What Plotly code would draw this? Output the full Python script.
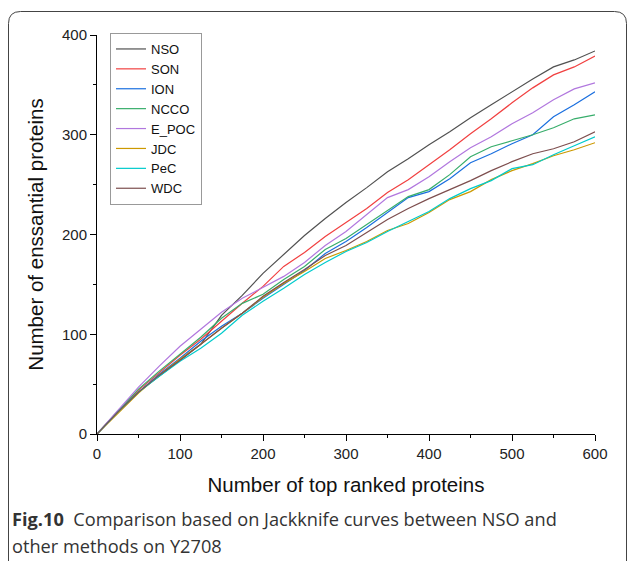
import plotly.graph_objects as go

x_vals = list(range(0, 601, 25))

nso = [0, 22, 42, 58, 74, 90, 119, 139, 161, 180, 199, 216, 232, 247, 263, 276, 290, 303, 317, 330, 343, 356, 368, 375, 384]
son = [0, 23, 44, 62, 79, 95, 113, 131, 148, 168, 182, 198, 212, 226, 242, 255, 270, 285, 301, 316, 332, 347, 360, 368, 379]
ion = [0, 22, 42, 60, 76, 93, 108, 121, 136, 150, 164, 181, 193, 207, 222, 237, 243, 256, 272, 281, 291, 300, 318, 330, 343]
ncco = [0, 23, 45, 63, 80, 97, 116, 131, 140, 155, 168, 185, 196, 210, 224, 238, 245, 260, 278, 288, 294, 300, 307, 316, 320]
e_poc = [0, 24, 47, 68, 88, 105, 122, 136, 147, 158, 172, 189, 203, 220, 237, 245, 258, 273, 287, 298, 311, 322, 335, 346, 352]
jdc = [0, 21, 41, 59, 75, 90, 106, 121, 137, 151, 163, 176, 184, 193, 204, 211, 222, 235, 243, 255, 264, 271, 279, 285, 292]
pec = [0, 22, 42, 58, 73, 86, 101, 119, 133, 146, 160, 172, 183, 192, 203, 213, 223, 236, 246, 254, 266, 270, 280, 289, 298]
wdc = [0, 22, 42, 59, 74, 90, 106, 121, 138, 152, 165, 179, 189, 202, 215, 226, 236, 245, 254, 264, 273, 281, 286, 293, 303]

series_names = ["NSO", "SON", "ION", "NCCO", "E_POC", "JDC", "PeC", "WDC"]
series_values = [nso, son, ion, ncco, e_poc, jdc, pec, wdc]
series_colors = ["#515151", "#F14040", "#1A6FDF", "#37AD6B", "#B177DE", "#CC9900", "#00CBCC", "#7D4E4E"]

x_ticks = [0, 100, 200, 300, 400, 500, 600]
y_ticks = [0, 100, 200, 300, 400]

W, H = 629, 561
L, R, T, B = 97, 34, 35, 127
pw, ph = W - L - R, H - T - B
FONT = "Liberation Sans"


def px(xp):
    return (xp - L) / pw


def py(yp):
    return (H - B - yp) / ph


fig = go.Figure()
for name, vals, col in zip(series_names, series_values, series_colors):
    fig.add_trace(go.Scatter(x=x_vals, y=vals, mode="lines", name=name,
                             line=dict(color=col, width=1.2)))

fig.update_layout(
    width=W, height=H,
    margin=dict(l=L, r=R, t=T, b=B),
    paper_bgcolor="white", plot_bgcolor="white",
    font=dict(family=FONT, color="#111"),
    showlegend=True,
    legend=dict(x=px(110), y=py(33), xanchor="left", yanchor="top",
                bordercolor="#999", borderwidth=1, bgcolor="white",
                font=dict(size=13, family=FONT, color="#111"),
                tracegroupgap=0, itemwidth=30),
    xaxis=dict(range=[0, 600], tickvals=x_ticks, ticks="outside", ticklen=6,
               tickcolor="black", showline=True, linecolor="black", linewidth=1,
               showgrid=False, zeroline=False,
               minor=dict(tickvals=[50, 150, 250, 350, 450, 550], ticks="outside", ticklen=3, tickcolor="black"),
               tickfont=dict(size=15, family=FONT, color="#222"),
               title=dict(text="Number of top ranked proteins", font=dict(size=20.5, family=FONT, color="#111"), standoff=16)),
    yaxis=dict(range=[0, 400], tickvals=y_ticks, ticks="outside", ticklen=6,
               tickcolor="black", showline=True, linecolor="black", linewidth=1,
               showgrid=False, zeroline=False,
               minor=dict(tickvals=[50, 150, 250, 350], ticks="outside", ticklen=3, tickcolor="black"),
               tickfont=dict(size=15, family=FONT, color="#222"),
               title=dict(text="Number of enssantial proteins", font=dict(size=20.5, family=FONT, color="#111"), standoff=12)),
)

# outer rounded frame
l0, t0, r0, b0, rad = 8.5, 11.5, 626.5, 575, 12
path = (f"M {px(l0)},{py(b0)} L {px(l0)},{py(t0 + rad)} "
        f"Q {px(l0)},{py(t0)} {px(l0 + rad)},{py(t0)} "
        f"L {px(r0 - rad)},{py(t0)} Q {px(r0)},{py(t0)} {px(r0)},{py(t0 + rad)} "
        f"L {px(r0)},{py(b0)}")
fig.add_shape(type="path", path=path, xref="paper", yref="paper",
              line=dict(color="#444", width=1))

cap_font = dict(size=18.2, family="Open Sans, Noto Sans", color="#333")
fig.add_annotation(x=px(10), y=py(519), xref="paper", yref="paper", xanchor="left", yanchor="middle",
                   showarrow=False, align="left", font=cap_font,
                   text="<b>Fig.10</b>  Comparison based on Jackknife curves between NSO and")
fig.add_annotation(x=px(10), y=py(546), xref="paper", yref="paper", xanchor="left", yanchor="middle",
                   showarrow=False, align="left", font=cap_font,
                   text="other methods on Y2708")

fig.write_html("out.html")
